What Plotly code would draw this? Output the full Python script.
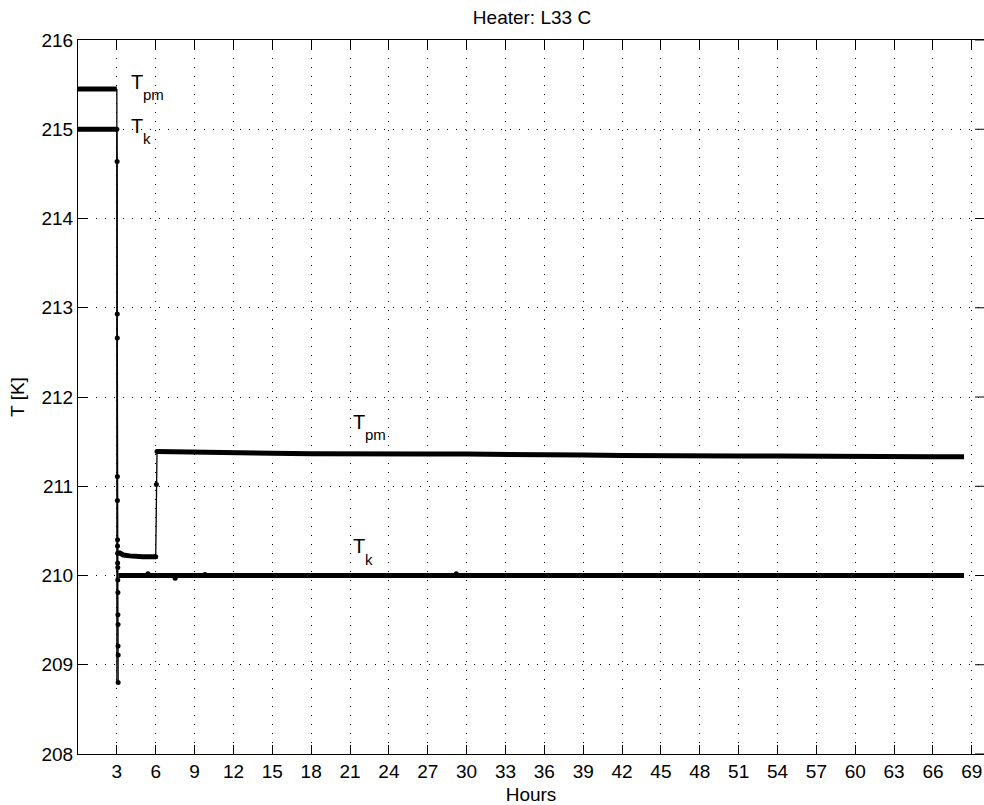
import plotly.graph_objects as go

# ---------------- data ----------------
# initial plateaus (hours 0-3)
pm_x1 = [0.0, 3.0]
pm_y1 = [215.45, 215.45]
k_x1 = [0.0, 3.0]
k_y1 = [215.0, 215.0]

# transient after the step at ~3 h (thin line + dots)
tr_x = [3.0, 3.02, 3.03, 3.03, 3.04, 3.04, 3.05, 3.05, 3.06, 3.06, 3.07,
        3.07, 3.08, 3.08, 3.09, 3.09, 3.10, 3.10]
tr_y = [215.0, 214.64, 212.93, 212.66, 211.11, 210.84, 210.40, 210.33, 210.25,
        210.14, 210.09, 209.95, 209.81, 209.56, 209.45, 209.21, 209.11, 208.80]
drop_x = [3.0, 3.0, 3.05, 3.1]
drop_y = [215.45, 208.80, 210.30, 210.25]

# T_pm between 3 h and 6 h
pm_x2 = [3.12, 3.5, 4.0, 4.5, 5.0, 5.5, 6.0]
pm_y2 = [210.26, 210.23, 210.22, 210.21, 210.21, 210.21, 210.21]

# step of T_pm at ~6 h
step_x = [6.0, 6.05, 6.1]
step_y = [210.21, 211.02, 211.39]

# T_pm after 6 h
pm_x3 = [6.1, 9, 12, 15, 18, 21, 22.5, 24, 27, 30, 33, 36, 39, 42, 45, 48,
         51, 54, 57, 60, 63, 66, 68.4]
pm_y3 = [211.39, 211.38, 211.37, 211.37, 211.365, 211.36, 211.355, 211.36,
         211.36, 211.36, 211.36, 211.355, 211.35, 211.345, 211.34, 211.34,
         211.34, 211.34, 211.335, 211.335, 211.33, 211.33, 211.33]

# T_k after the step
k_x2 = [3.12, 9, 15, 21, 27, 33, 39, 45, 51, 57, 63, 68.4]
k_y2 = [210.0] * len(k_x2)

# a few stray samples
stray_x = [5.4, 7.5, 9.8, 29.2]
stray_y = [210.02, 209.97, 210.01, 210.02]

x_ticks = list(range(3, 70, 3))
y_ticks = list(range(208, 217))

# curve labels: (x, y, main text, subscript)
labels = [
    (3.95, 215.53, "T", "pm"),
    (3.95, 215.04, "T", "k"),
    (21.1, 211.72, "T", "pm"),
    (21.1, 210.33, "T", "k"),
]

FONT = "Liberation Sans, Arial, sans-serif"
FS = 19

fig = go.Figure()
thick = dict(color="black", width=5)
thin = dict(color="black", width=1.3)

fig.add_trace(go.Scatter(x=drop_x, y=drop_y, mode="lines", line=thin))
fig.add_trace(go.Scatter(x=tr_x, y=tr_y, mode="lines+markers", line=thin,
                         marker=dict(size=5, color="black")))
fig.add_trace(go.Scatter(x=step_x, y=step_y, mode="lines+markers", line=thin,
                         marker=dict(size=5, color="black")))
for xs, ys in [(pm_x1, pm_y1), (k_x1, k_y1), (pm_x2, pm_y2),
               (pm_x3, pm_y3), (k_x2, k_y2)]:
    fig.add_trace(go.Scatter(x=xs, y=ys, mode="lines", line=thick))
fig.add_trace(go.Scatter(x=stray_x, y=stray_y, mode="markers",
                         marker=dict(size=5, color="black")))

for lx, ly, main, sub in labels:
    fig.add_annotation(x=lx, y=ly, text=main, showarrow=False, xanchor="left",
                       yanchor="middle", font=dict(family=FONT, size=20, color="black"))
    fig.add_annotation(x=lx, y=ly, text=sub, showarrow=False, xanchor="left",
                       yanchor="middle", xshift=12, yshift=-13,
                       font=dict(family=FONT, size=15, color="black"))

# inward ticks of the (cropped) right-hand axis
for yv in y_ticks:
    fig.add_shape(type="line", xref="paper", yref="y", xsizemode="pixel",
                  xanchor=1, x0=-9, x1=0, y0=yv, y1=yv,
                  line=dict(color="black", width=1))

fig.update_layout(
    width=984, height=805,
    margin=dict(l=78, r=0, t=40, b=51),
    paper_bgcolor="white", plot_bgcolor="white",
    showlegend=False,
    font=dict(family=FONT, size=FS, color="black"),
    title=dict(text="Heater: L33 C", x=532 / 984, xanchor="center",
               y=1 - 17 / 805, yanchor="middle", yref="container",
               font=dict(family=FONT, size=FS, color="black")),
)
fig.update_xaxes(
    range=[0, 69.94], tickvals=x_ticks, ticktext=[str(v) for v in x_ticks],
    ticks="inside", ticklen=9, tickcolor="black", tickwidth=1,
    showline=True, linecolor="black", linewidth=1, mirror="ticks",
    showgrid=True, gridcolor="black", gridwidth=1, griddash="1px,8px",
    zeroline=False,
    title=dict(text="Hours", standoff=8, font=dict(family=FONT, size=FS)),
)
fig.update_yaxes(
    range=[208, 216], tickvals=y_ticks, ticktext=[str(v) for v in y_ticks],
    ticks="inside", ticklen=9, tickcolor="black", tickwidth=1,
    showline=True, linecolor="black", linewidth=1, mirror=False,
    showgrid=True, gridcolor="black", gridwidth=1, griddash="1px,8px",
    zeroline=False,
    title=dict(text="T [K]", standoff=11, font=dict(family=FONT, size=FS)),
)

fig.write_html("out.html")
